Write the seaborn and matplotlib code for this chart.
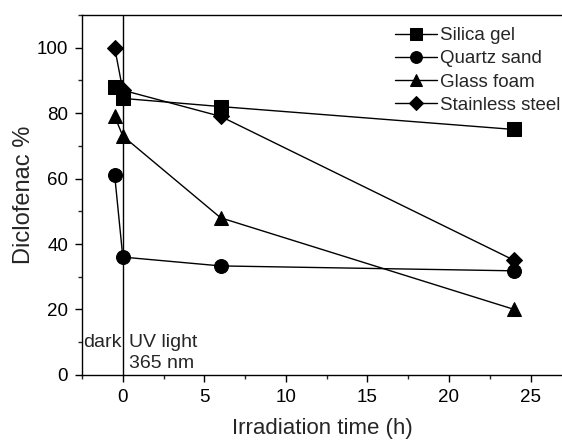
import matplotlib
matplotlib.use("Agg")
import matplotlib.pyplot as plt
import seaborn as sns
import pandas as pd
from matplotlib.ticker import MultipleLocator, FuncFormatter

# Irradiation times (h); -0.5 is the dark adsorption step before UV
times = [-0.5, 0, 6, 24]
materials = ["Silica gel", "Quartz sand", "Glass foam", "Stainless steel"]
silica_gel = [88, 84.5, 82, 75]
quartz_sand = [61, 36, 33.3, 31.8]
glass_foam = [79, 73, 48, 20]
stainless_steel = [100, 87, 79, 35]

series = [silica_gel, quartz_sand, glass_foam, stainless_steel]
rows = []
for name, vals in zip(materials, series):
    for t, v in zip(times, vals):
        rows.append({"time": t, "diclofenac": v, "material": name})
df = pd.DataFrame(rows)

sns.set_theme(style="ticks")
plt.rcParams["font.family"] = ["Liberation Sans", "DejaVu Sans"]

fig = plt.figure(figsize=(5.62, 4.40), dpi=100)
ax = fig.add_axes([0.146, 0.148, 0.856, 0.818])

markers = {"Silica gel": "s", "Quartz sand": "o", "Glass foam": "^", "Stainless steel": "D"}
palette = {m: "black" for m in materials}
sns.lineplot(data=df, x="time", y="diclofenac", hue="material", style="material",
             hue_order=materials, style_order=materials, palette=palette,
             markers=markers, dashes=False, markersize=10, linewidth=1.0,
             markeredgecolor="black", ax=ax, legend="full")

for line in ax.lines:
    if line.get_marker() == "D":
        line.set_markersize(8.5)

ax.axvline(0, color="black", linewidth=1.0, zorder=1)

ax.set_xlim(-2.5, 27)
ax.set_ylim(0, 110)
ax.xaxis.set_major_locator(MultipleLocator(5))
ax.xaxis.set_minor_locator(MultipleLocator(2.5))
ax.yaxis.set_major_locator(MultipleLocator(20))
ax.yaxis.set_minor_locator(MultipleLocator(10))
ax.tick_params(axis="both", which="major", direction="out", length=5, width=1,
               labelsize=13.5, colors="black", pad=5)
ax.tick_params(axis="both", which="minor", direction="out", length=3, width=1)
ax.yaxis.set_major_formatter(FuncFormatter(lambda v, p: f"{int(v)}"))
ax.xaxis.set_major_formatter(FuncFormatter(lambda v, p: f"{int(v)}"))

for s in ["left", "bottom", "top"]:
    ax.spines[s].set_visible(True)
    ax.spines[s].set_linewidth(1.0)
    ax.spines[s].set_color("black")
ax.spines["right"].set_visible(False)

ax.set_xlabel("Irradiation time (h)", fontsize=16, labelpad=9)
ax.set_ylabel("Diclofenac %", fontsize=17)
ax.yaxis.set_label_coords(-0.098, 0.5)

ax.text(-0.05, 10, "dark", ha="right", va="center", fontsize=14)
ax.text(0.35, 10, "UV light", ha="left", va="center", fontsize=14)
ax.text(0.35, 3.6, "365 nm", ha="left", va="center", fontsize=14)

leg = ax.legend(loc="upper left", bbox_to_anchor=(395 / 562, 1 - 27 / 440),
                bbox_transform=fig.transFigure, frameon=False,
                fontsize=13.5, handlelength=2.25, handletextpad=0.15,
                labelspacing=0.33, borderpad=0, borderaxespad=0, markerscale=0.85)
for h in leg.legend_handles:
    h.set_color("black")
    h.set_markerfacecolor("black")
    h.set_markeredgecolor("black")

fig.savefig("out.png", dpi=100)
